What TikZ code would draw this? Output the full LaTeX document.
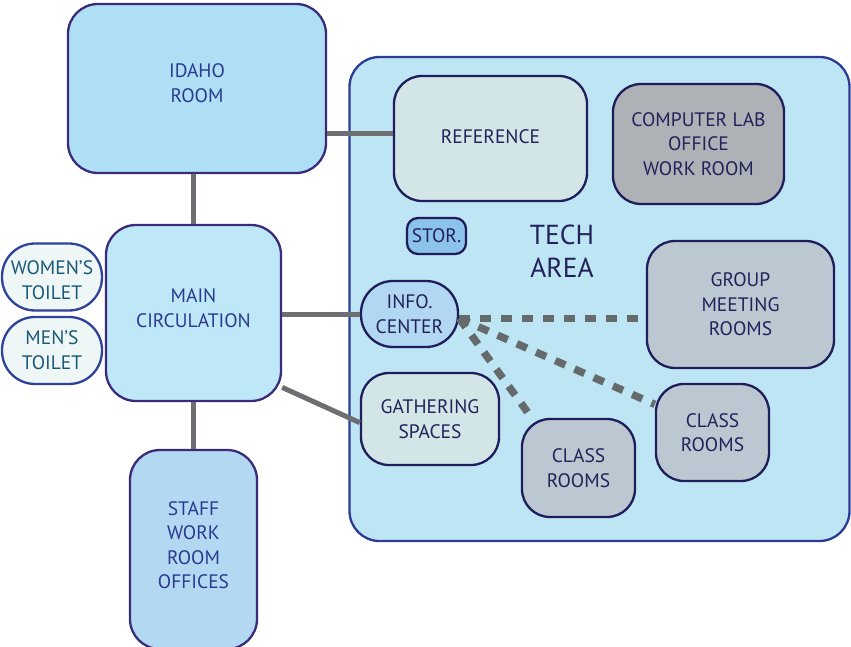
\documentclass[tikz,border=0pt]{standalone}
\usepackage{fontspec}
\setmainfont{PT Sans}
\definecolor{idahofill}{HTML}{AEDFF4}
\definecolor{mainfill}{HTML}{BEE7F7}
\definecolor{stafffill}{HTML}{B3D8F1}
\definecolor{techfill}{HTML}{BEE5F4}
\definecolor{toiletfill}{HTML}{EEF6F6}
\definecolor{reffill}{HTML}{D3E6E7}
\definecolor{labfill}{HTML}{AEB2B7}
\definecolor{roomfill}{HTML}{BBC8D1}
\definecolor{storfill}{HTML}{8CC3EA}
\definecolor{infofill}{HTML}{B1D7F2}
\definecolor{outerborder}{HTML}{3B2B7B}
\definecolor{toiletborder}{HTML}{2F429A}
\definecolor{techborder}{HTML}{2C3C95}
\definecolor{innerborder}{HTML}{1F1D5C}
\definecolor{outertext}{HTML}{2B3A90}
\definecolor{toilettext}{HTML}{1A5878}
\definecolor{innertext}{HTML}{22225A}
\definecolor{linkgray}{HTML}{6D6E71}
\definecolor{dashgray}{HTML}{656A6C}
\tikzset{
  txt/.style={font=\fontsize{19.5}{24.5}\selectfont, align=center},
  outerbox/.style={draw=outerborder, line width=2.3pt, rectangle, rounded corners=30pt, inner sep=0pt},
  outertxt/.style={txt, text=outertext},
  toiletbox/.style={draw=toiletborder, fill=toiletfill, line width=2.3pt, rectangle, rounded corners=33pt, inner sep=0pt, minimum width=100pt, minimum height=67pt},
  toilettxt/.style={txt, text=toilettext},
  innerbox/.style={txt, draw=innerborder, line width=2.3pt, text=innertext, rectangle, rounded corners=28pt, inner sep=0pt},
  link/.style={draw=linkgray, line width=5pt},
  dashlink/.style={draw=dashgray, line width=7.5pt, dash pattern=on 11pt off 10pt},
}
\begin{document}
\begin{tikzpicture}[x=1pt,y=-1pt]
\useasboundingbox (0,0) rectangle (851,647);
% tech area
\node[draw=techborder, fill=techfill, line width=2.3pt, rectangle, rounded corners=30pt, minimum width=500pt, minimum height=484pt, inner sep=0pt] (tech) at (599.5,299) {};
\node[font=\fontsize{27.5}{33}\selectfont, align=center, text=innertext] (techlabel) at (562,251) {TECH\\AREA};
% outer boxes
\node[outerbox, fill=idahofill, minimum width=258pt, minimum height=169pt] (idaho) at (197,88.5) {};
\node[outertxt] (idahotext) at (197,83) {IDAHO\\ROOM};
\node[outerbox, fill=mainfill, minimum width=175pt, minimum height=176pt] (main) at (193.5,313) {};
\node[outertxt] (maintext) at (193.5,308) {MAIN\\CIRCULATION};
\node[outerbox, fill=stafffill, minimum width=127pt, minimum height=199pt] (staff) at (193.5,549.5) {};
\node[outertxt] (stafftext) at (193.5,545) {STAFF\\WORK\\ROOM\\OFFICES};
\node[toiletbox] (women) at (52,277) {};
\node[toilettxt] (womentext) at (52,280) {WOMEN’S\\TOILET};
\node[toiletbox] (men) at (52,350.5) {};
\node[toilettxt] (mentext) at (52,350) {MEN’S\\TOILET};
% inner boxes
\node[innerbox, fill=reffill, minimum width=193pt, minimum height=125pt] (reference) at (490.5,138.5) {};
\node[txt, text=innertext] (reftext) at (490.5,136.5) {REFERENCE};
\node[innerbox, fill=labfill, minimum width=171pt, minimum height=120pt] (complab) at (698.5,144) {COMPUTER LAB\\OFFICE\\WORK ROOM};
\node[innerbox, fill=storfill, rounded corners=11pt, minimum width=59pt, minimum height=36pt] (stor) at (436.5,236) {STOR.};
\node[innerbox, fill=roomfill, minimum width=187pt, minimum height=127pt] (group) at (740.5,304.5) {GROUP\\MEETING\\ROOMS};
\node[innerbox, fill=infofill, rounded corners=32pt, minimum width=97pt, minimum height=66pt] (info) at (409.5,314) {INFO.\\CENTER};
\node[innerbox, fill=reffill, minimum width=138pt, minimum height=92pt] (gathering) at (430,419) {GATHERING\\SPACES};
\node[innerbox, fill=roomfill, minimum width=113pt, minimum height=98pt] (classa) at (578.5,468) {CLASS\\ROOMS};
\node[innerbox, fill=roomfill, minimum width=113pt, minimum height=97pt] (classb) at (712.5,432.5) {CLASS\\ROOMS};
% connectors
\draw[link] (idaho.east |- 0,134) -- (reference.west |- 0,134);
\draw[link] (idaho.south -| main.north) -- (main.north);
\draw[link] (main.south) -- (staff.north);
\draw[link] (main.east |- info.west) -- (info.west);
\draw[link] (main.-40) -- (gathering.183);
\draw[dashlink] (info.-5) -- (info.-5 -| group.west);
\draw[dashlink] (info.-5) -- (classb.154);
\draw[dashlink] (info.-5) -- (classa.133);
\end{tikzpicture}
\end{document}
